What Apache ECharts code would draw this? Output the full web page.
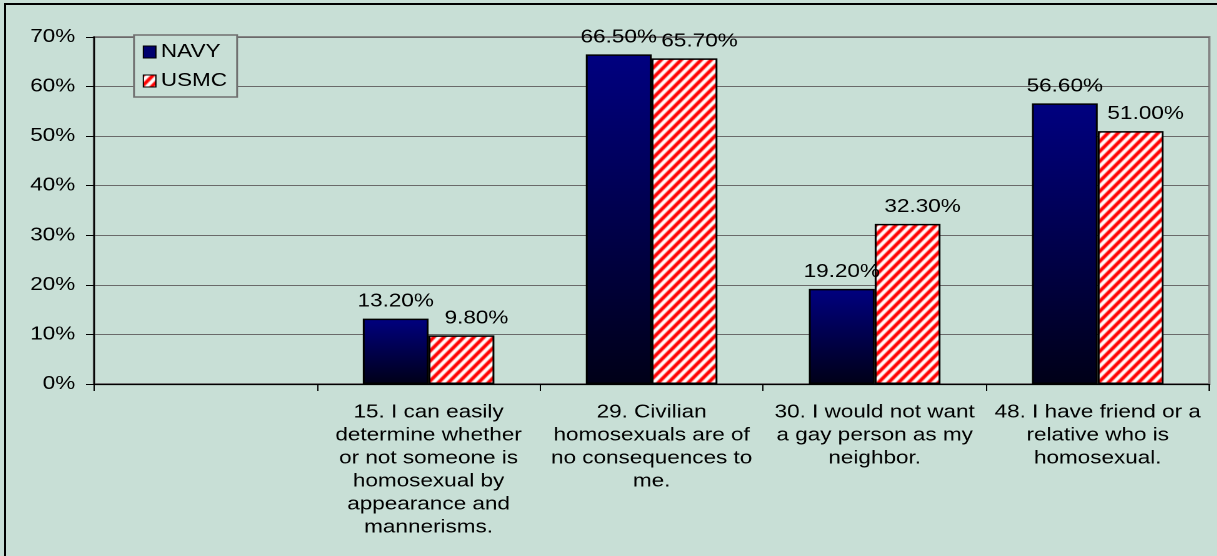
<!DOCTYPE html>
<html>
<head>
    <meta charset="utf-8">
    <title>NAVY / USMC</title>
    <style>
        html, body { margin: 0; padding: 0; background: #c8dfd6; overflow: hidden; }
        #frame {
            position: absolute;
            left: 4px;
            top: 3px;
            width: 1213px;
            height: 553px;
            border-left: 2px solid #000;
            border-top: 2px solid #000;
            box-sizing: border-box;
        }
        /* the original chart is drawn a bit wide, so stretch it the same way */
        #chartBox {
            position: absolute;
            left: 6px;
            top: 5px;
            width: 969px;
            height: 551px;
            transform: scaleX(1.25);
            transform-origin: 0 0;
        }
    </style>
</head>
<body>
    <div id="frame"></div>
    <div id="chartBox"></div>
    <script src="https://cdn.jsdelivr.net/npm/echarts@6/dist/echarts.min.js"></script>
    <script>
        // data
        var categories = [
            '',
            '15. I can easily\ndetermine whether\nor not someone is\nhomosexual by\nappearance and\nmannerisms.',
            '29. Civilian\nhomosexuals are of\nno consequences to\nme.',
            '30. I would not want\na gay person as my\nneighbor.',
            '48. I have friend or a\nrelative who is\nhomosexual.'
        ];
        var navy = [null, 13.2, 66.5, 19.2, 56.6];
        var usmc = [null, 9.8, 65.7, 32.3, 51.0];
        var yTicks = [0, 10, 20, 30, 40, 50, 60, 70];

        // red / white diagonal stripes (tile is narrower because of the 1.25 stretch)
        function stripeTile() {
            var w = 16, h = 20;   // drawn at 2x, scaled down below
            var c = document.createElement('canvas');
            c.width = w; c.height = h;
            var g = c.getContext('2d');
            g.fillStyle = '#fff';
            g.fillRect(0, 0, w, h);
            g.strokeStyle = '#ff0000';
            g.lineWidth = 6.2;
            g.beginPath();
            g.moveTo(-w / 2, h / 2); g.lineTo(w / 2, -h / 2);
            g.moveTo(0, h); g.lineTo(w, 0);
            g.moveTo(w / 2, h * 1.5); g.lineTo(w * 1.5, h / 2);
            g.stroke();
            // shrink to an 8 x 10 tile
            var s = document.createElement('canvas');
            s.width = 8; s.height = 10;
            s.getContext('2d').drawImage(c, 0, 0, 8, 10);
            return s;
        }

        var myChart = echarts.init(document.getElementById('chartBox'), null, { devicePixelRatio: 2 });
        var font = 'Liberation Sans, Arial, sans-serif';
        var pct = function (p) { return p.value.toFixed(2) + '%'; };

        var option = {
            backgroundColor: '#c8dfd6',
            animation: false,
            textStyle: { fontFamily: font },
            grid: {
                left: 70.4, right: 6.4, top: 32, bottom: 172,
                show: true, borderColor: '#858585', borderWidth: 2,
                backgroundColor: 'transparent'
            },
            legend: {
                orient: 'vertical',
                left: 102.4, top: 30,
                itemWidth: 10, itemHeight: 12, itemGap: 11,
                padding: [8, 8, 7, 7],
                backgroundColor: '#c8dfd6',
                borderColor: '#707070', borderWidth: 1.5,
                textStyle: { fontSize: 18, color: '#000', fontFamily: font, padding: [0, 0, 0, -1] },
                data: [
                    { name: 'NAVY', icon: 'rect', itemStyle: { color: '#00006e', borderColor: '#000', borderWidth: 1 } },
                    { name: 'USMC', icon: 'rect', itemStyle: { borderColor: '#000', borderWidth: 1 } }
                ]
            },
            xAxis: {
                type: 'category',
                data: categories,
                axisLine: { lineStyle: { color: '#000', width: 1.2 } },
                axisTick: { show: true, length: 7, lineStyle: { color: '#000' } },
                axisLabel: {
                    interval: 0, color: '#000', fontSize: 18, lineHeight: 23,
                    margin: 17, align: 'center', fontFamily: font
                }
            },
            yAxis: {
                type: 'value',
                min: yTicks[0], max: yTicks[yTicks.length - 1], interval: 10,
                axisLine: { show: true, lineStyle: { color: '#000', width: 1.2 } },
                axisTick: { show: true, length: 6.4, lineStyle: { color: '#000' } },
                axisLabel: {
                    color: '#000', fontSize: 18, margin: 15, fontFamily: font,
                    formatter: function (v) { return v + '%'; }
                },
                splitLine: { lineStyle: { color: '#6a6a6a', width: 1 } }
            },
            series: [
                {
                    name: 'NAVY',
                    type: 'bar',
                    data: navy,
                    barGap: '0%',
                    barCategoryGap: '41%',
                    itemStyle: {
                        color: new echarts.graphic.LinearGradient(0, 0, 0, 1, [
                            { offset: 0, color: '#000080' },
                            { offset: 1, color: '#000018' }
                        ]),
                        borderColor: '#000', borderWidth: 1.5
                    },
                    label: {
                        show: true, position: 'top', distance: 8,
                        color: '#000', fontSize: 18, fontFamily: font,
                        formatter: pct
                    }
                },
                {
                    name: 'USMC',
                    type: 'bar',
                    data: usmc,
                    itemStyle: {
                        color: { image: stripeTile(), repeat: 'repeat' },
                        borderColor: '#000', borderWidth: 1.5
                    },
                    label: {
                        show: true, position: 'top', distance: 8, offset: [12, 0],
                        color: '#000', fontSize: 18, fontFamily: font,
                        formatter: pct
                    }
                }
            ]
        };

        myChart.setOption(option);
    </script>
</body>
</html>
